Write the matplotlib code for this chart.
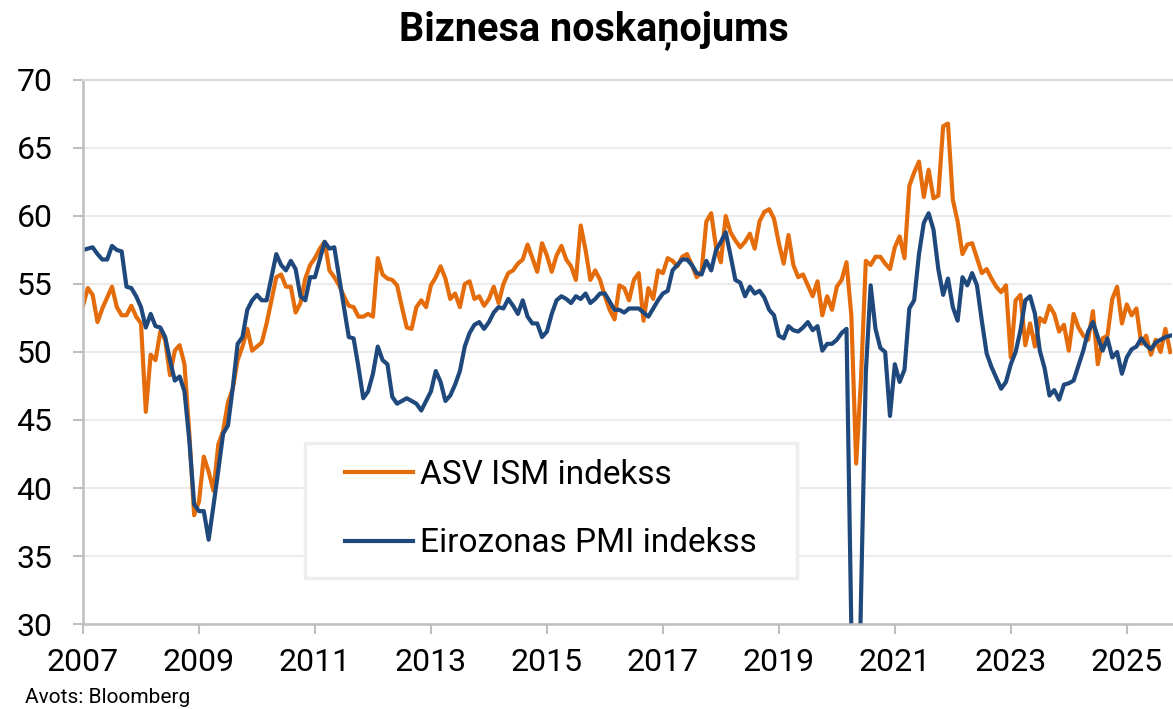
import matplotlib

matplotlib.use('Agg')

import numpy as np
import matplotlib.pyplot as plt
from matplotlib.patches import Rectangle

# mēneša dati, sākot ar 2006. g. decembri
ism = [53.4,
       54.7, 54.2, 52.2, 53.2, 54.0, 54.8, 53.3, 52.7, 52.7, 53.4, 52.6, 52.1,  # 2007
       45.6, 49.8, 49.4, 51.5, 50.9, 48.3, 50.1, 50.5, 49.1, 44.0, 38.0, 39.0,  # 2008
       42.3, 41.2, 39.8, 43.2, 44.2, 46.3, 47.3, 49.4, 50.4, 51.7, 50.1, 50.4,  # 2009
       50.7, 52.1, 53.8, 55.5, 55.7, 54.8, 54.8, 52.9, 53.6, 55.4, 56.4, 56.9,  # 2010
       57.6, 58.1, 56.0, 55.5, 54.9, 54.1, 53.4, 53.3, 52.6, 52.6, 52.8, 52.6,  # 2011
       56.9, 55.7, 55.4, 55.3, 54.9, 53.3, 51.8, 51.7, 53.3, 53.8, 53.3, 54.9,  # 2012
       55.5, 56.3, 55.4, 53.9, 54.3, 53.3, 55.0, 55.2, 53.9, 54.1, 53.4, 53.9,  # 2013
       54.8, 53.6, 55.0, 55.8, 56.0, 56.5, 56.8, 57.9, 56.9, 55.9, 58.0, 57.1,  # 2014
       55.9, 57.1, 57.8, 56.8, 56.3, 55.3, 59.3, 57.5, 55.3, 56.0, 55.3, 54.1,  # 2015
       53.1, 52.4, 54.9, 54.7, 53.8, 55.3, 55.8, 52.3, 54.7, 53.9, 56.0, 55.8,  # 2016
       56.9, 56.7, 56.3, 57.0, 57.2, 56.4, 55.5, 55.9, 59.6, 60.2, 57.7, 56.6,  # 2017
       60.0, 58.8, 58.2, 57.7, 58.1, 58.7, 57.6, 59.6, 60.3, 60.5, 59.8, 58.0,  # 2018
       56.5, 58.6, 56.4, 55.5, 55.7, 54.9, 54.1, 55.2, 52.7, 54.1, 53.1, 54.8,  # 2019
       55.3, 56.6, 52.7, 41.8, 48.0, 56.7, 56.4, 57.0, 57.0, 56.5, 56.1, 57.7,  # 2020
       58.5, 56.9, 62.2, 63.2, 64.0, 61.4, 63.4, 61.3, 61.5, 66.6, 66.8, 61.2,  # 2021
       59.6, 57.2, 57.9, 58.0, 56.9, 55.8, 56.1, 55.4, 54.8, 54.4, 54.9, 49.6,  # 2022
       53.8, 54.2, 50.5, 52.1, 50.4, 52.5, 52.2, 53.4, 52.8, 51.5, 52.0, 50.1,  # 2023
       52.8, 51.8, 51.2, 50.9, 53.0, 49.1, 51.0, 51.2, 53.9, 54.8, 52.1, 53.5,  # 2024
       52.7, 53.2, 50.6, 51.2, 49.8, 50.9, 50.0, 51.7, 50.0]                    # 2025

pmi = [57.5,
       57.6, 57.7, 57.2, 56.8, 56.8, 57.8, 57.5, 57.4, 54.8, 54.7, 54.1, 53.3,  # 2007
       51.8, 52.8, 51.9, 51.8, 51.1, 49.4, 47.9, 48.2, 47.1, 43.5, 38.8, 38.3,  # 2008
       38.3, 36.2, 38.7, 41.3, 44.0, 44.6, 47.4, 50.6, 51.1, 53.1, 53.8, 54.2,  # 2009
       53.8, 53.8, 55.5, 57.2, 56.4, 56.0, 56.7, 56.1, 54.1, 53.8, 55.5, 55.5,  # 2010
       56.8, 58.1, 57.6, 57.7, 55.5, 53.3, 51.1, 51.0, 48.9, 46.6, 47.1, 48.4,  # 2011
       50.4, 49.4, 49.1, 46.7, 46.2, 46.4, 46.6, 46.4, 46.2, 45.7, 46.4, 47.1,  # 2012
       48.6, 47.8, 46.4, 46.8, 47.6, 48.6, 50.4, 51.4, 52.0, 52.2, 51.7, 52.2,  # 2013
       52.9, 53.3, 53.2, 53.9, 53.4, 52.8, 53.8, 52.6, 52.1, 52.1, 51.1, 51.5,  # 2014
       52.8, 53.8, 54.1, 53.9, 53.6, 54.1, 53.9, 54.3, 53.6, 53.9, 54.3, 54.3,  # 2015
       53.7, 53.1, 53.1, 52.9, 53.2, 53.2, 53.2, 52.9, 52.6, 53.2, 53.8, 54.3,  # 2016
       54.5, 56.0, 56.4, 56.8, 56.8, 56.4, 55.8, 55.7, 56.7, 56.0, 57.5, 58.1,  # 2017
       58.8, 57.1, 55.3, 55.1, 54.1, 54.8, 54.3, 54.5, 54.0, 53.1, 52.7, 51.2,  # 2018
       51.0, 51.9, 51.6, 51.5, 51.8, 52.2, 51.6, 51.9, 50.1, 50.6, 50.6, 50.9,  # 2019
       51.4, 51.7, 29.7, 13.6, 31.9, 48.5, 54.9, 51.7, 50.3, 50.0, 45.3, 49.1,  # 2020
       47.8, 48.7, 53.2, 53.8, 57.2, 59.5, 60.2, 59.0, 56.1, 54.2, 55.4, 53.3,  # 2021
       52.3, 55.5, 54.9, 55.8, 54.9, 52.3, 49.9, 48.9, 48.1, 47.3, 47.8, 49.1,  # 2022
       50.0, 51.6, 53.8, 54.1, 52.8, 50.1, 48.8, 46.8, 47.2, 46.5, 47.6, 47.7,  # 2023
       47.9, 49.0, 50.1, 51.5, 52.2, 51.1, 50.1, 51.0, 49.6, 50.0, 48.4, 49.6,  # 2024
       50.2, 50.4, 51.0, 50.5, 50.2, 50.7, 50.9, 51.1, 51.2]                    # 2025

labels = ['ASV ISM indekss', 'Eirozonas PMI indekss']
year_ticks = list(range(2007, 2026, 2))
y_ticks = [30, 35, 40, 45, 50, 55, 60, 65, 70]

plt.rcParams['font.family'] = ['Roboto', 'DejaVu Sans']

x = 2007 + np.arange(len(ism)) / 12

fig = plt.figure(figsize=(11.73, 7.09), dpi=100)
ax = fig.add_axes([83 / 1173, 1 - 624 / 709, 1089 / 1173, 544 / 709])

ax.plot(x, ism, color='#E46C0A', lw=3, label=labels[0], solid_joinstyle='round')
ax.plot(x, pmi, color='#1F497D', lw=3, label=labels[1], solid_joinstyle='round')

ax.set_xlim(2007, 2025.78)
ax.set_ylim(30, 70)
ax.set_xticks(year_ticks)
ax.set_yticks(y_ticks)
ax.tick_params(axis='both', labelsize=23, length=7, width=1.5, color='#BFBFBF')
ax.tick_params(axis='x', pad=10)
ax.tick_params(axis='y', pad=15)

ax.grid(axis='y', color='#EBEBEB', lw=1.5)
ax.set_axisbelow(True)
for s in ['left', 'bottom']:
    ax.spines[s].set_color('#BFBFBF')
    ax.spines[s].set_linewidth(1.8)
ax.spines['top'].set_color('#D9D9D9')
ax.spines['top'].set_linewidth(1.5)
ax.spines['right'].set_visible(False)

# leģendas rāmis
ax.add_patch(Rectangle((0.2039, 0.0846), 0.4518, 0.248, transform=ax.transAxes,
                       facecolor='white', edgecolor='#EEEEEE', lw=2.5, zorder=3))
leg = ax.legend(loc='center left', bbox_to_anchor=(0.2406, 0.2114), frameon=False,
                fontsize=24, handlelength=2.05, handletextpad=0.2, labelspacing=1.1,
                borderpad=0, borderaxespad=0)
leg.set_zorder(4)

fig.text(0.506, 1 - 40 / 709, 'Biznesa noskaņojums', ha='center', va='baseline',
         fontsize=28.5, fontweight='bold')
fig.text(25 / 1173, 1 - 703 / 709, 'Avots: Bloomberg', ha='left', va='baseline', fontsize=15)

fig.savefig('out.png', dpi=100)
plt.close(fig)
